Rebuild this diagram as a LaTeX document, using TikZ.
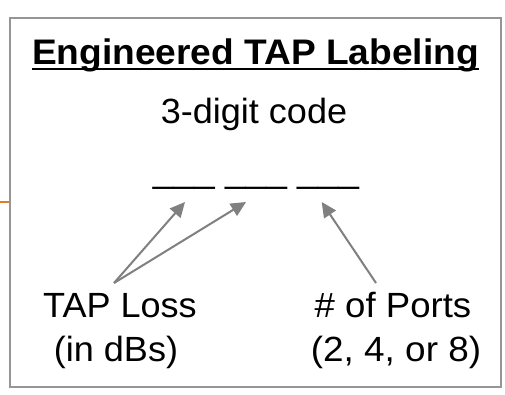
\documentclass[tikz,border=0pt]{standalone}
\usepackage{fontspec}
\usepackage{graphicx}
\setmainfont{Liberation Sans}
\usetikzlibrary{arrows.meta}
\newcommand{\ulinetext}[1]{\setbox0\hbox{#1}\rlap{\rule[-4.6pt]{\wd0}{2pt}}\box0}
\newcommand{\wide}[2][1.04]{\scalebox{#1}[1]{#2}}
\definecolor{framegray}{HTML}{969696}
\definecolor{arrowgray}{HTML}{808080}
\definecolor{accentorange}{HTML}{E07B28}
\tikzset{
  lbl/.style={anchor=base, inner sep=0pt, font=\fontsize{35}{40}\selectfont},
  ttl/.style={anchor=base, inner sep=0pt, font=\fontsize{35.5}{40}\selectfont\bfseries},
  pointer/.style={draw=arrowgray, line width=2pt, -{Triangle[length=15pt,width=14pt]}},
}
\begin{document}
\begin{tikzpicture}[x=1pt,y=-1pt]
\useasboundingbox (0,0) rectangle (505,395);
\draw[accentorange, line width=2pt] (0,202) -- (10,202);
\draw[framegray, line width=1.6pt, fill=white] (10,18) rectangle (501,387);
\node[ttl] (title) at (255.5,65) {\wide[1.045]{\ulinetext{Engineered TAP Labeling}}};
\node[lbl] (code) at (254,123.3) {\wide[1.03]{3-digit code}};
\node[lbl] (blanks) at (256,183) {\wide[1.06]{\_\_\_ \_\_\_ \_\_\_}};
\node[lbl] (loss1) at (120,317) {\wide[1.03]{TAP Loss}};
\node[lbl] (loss2) at (116,361.7) {\wide[1.03]{(in dBs)}};
\node[lbl] (ports1) at (393,317.3) {\wide[1.045]{\# of Ports}};
\node[lbl] (ports2) at (396,361.7) {\wide[1.055]{(2, 4, or 8)}};
\coordinate (lossTail) at (114,283);
\coordinate (portsTail) at (376,283);
\coordinate (digitA) at (185,202);
\coordinate (digitB) at (246,202);
\coordinate (digitC) at (321.7,202);
\draw[pointer] (lossTail) -- (digitA);
\draw[pointer] (lossTail) -- (digitB);
\draw[pointer] (portsTail) -- (digitC);
\end{tikzpicture}
\end{document}
